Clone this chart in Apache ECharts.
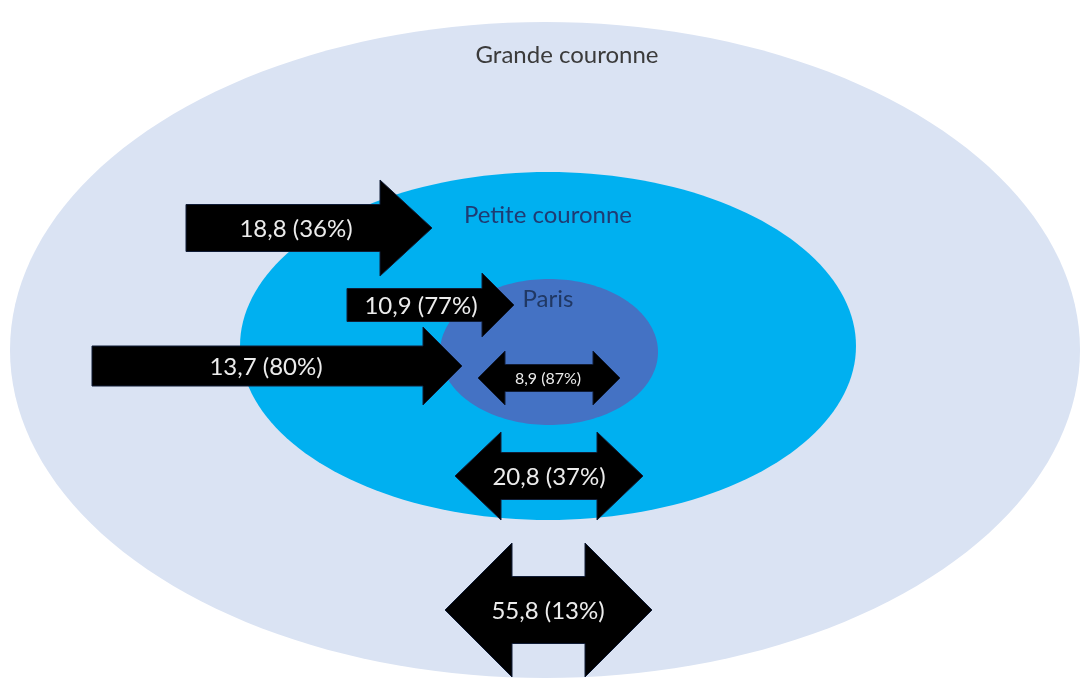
<!DOCTYPE html>
<html>
<head>
<meta charset="UTF-8">
<title>Flux Paris / Petite couronne / Grande couronne</title>
<script src="https://cdn.jsdelivr.net/npm/echarts@6/dist/echarts.min.js"></script>
<style>
  html, body { margin: 0; padding: 0; background: #fff; }
  #main { width: 1080px; height: 679px; }
</style>
</head>
<body>
<div id="main"></div>
<script>
// zones (outer to inner)
var zoneNames = ['Grande couronne', 'Petite couronne', 'Paris'];
// flows: value (in units as in source) and share in %
var flowValues = [18.8, 10.9, 13.7, 8.9, 20.8, 55.8];
var flowShares = [36, 77, 80, 87, 37, 13];
var flowKinds = ['in', 'in', 'in', 'both', 'both', 'both'];

// layout in axis units (x: 0..1080, y: 0..679 top-down)
var zoneGeom = [
  // cx, cy, rx, ry, labelX, labelY
  [545, 350, 535, 328, 567, 55],
  [548, 346, 308, 174, 548, 215],
  [549, 352, 109, 73, 548, 299]
];
var zoneFill = ['#dae3f3', '#00b0f0', '#4472c4'];
var zoneText = ['#3b3b3b', '#1f3b73', '#203864'];

var flowGeom = [
  // x0, x1, cy, bodyHalf, headHalf, headLen, labelX, fontSize
  [186, 432, 228, 23.5, 48, 52, 296, 24],
  [347, 514, 305, 16.5, 32, 32, 421, 24],
  [92, 462, 366, 20, 39, 39, 266, 24],
  [478, 620, 378, 13.5, 27, 27, 548, 16],
  [455, 643, 476, 23.5, 44, 46, 549, 24],
  [445, 652, 610, 33.5, 67, 67, 548, 24]
];

function fmt(v, p) {
  return v.toFixed(1).replace('.', ',') + ' (' + p + '%)';
}

var zoneData = zoneNames.map(function (n, i) { return [i, n]; });
var flowData = flowValues.map(function (v, i) { return [i, v, flowShares[i]]; });

var font = 'Lato, "Open Sans", sans-serif';

var chart = echarts.init(document.getElementById('main'));
chart.setOption({
  animation: false,
  grid: { left: 0, right: 0, top: 0, bottom: 0 },
  xAxis: { type: 'value', min: 0, max: 1080, show: false },
  yAxis: { type: 'value', min: 0, max: 679, inverse: true, show: false },
  series: [
    {
      type: 'custom',
      name: 'zones',
      data: zoneData,
      clip: true,
      renderItem: function (params, api) {
        var i = api.value(0);
        var g = zoneGeom[i];
        var pts = [];
        for (var k = 0; k < 180; k++) {
          var a = k / 180 * Math.PI * 2;
          pts.push(api.coord([g[0] + g[2] * Math.cos(a), g[1] + g[3] * Math.sin(a)]));
        }
        var lp = api.coord([g[4], g[5]]);
        return {
          type: 'group',
          children: [
            { type: 'polygon', shape: { points: pts }, style: { fill: zoneFill[i] } },
            {
              type: 'text', x: lp[0], y: lp[1], z2: 5,
              style: {
                text: zoneNames[i], fill: zoneText[i], font: '24px ' + font,
                align: 'center', verticalAlign: 'middle'
              }
            }
          ]
        };
      }
    },
    {
      type: 'custom',
      name: 'flux',
      data: flowData,
      clip: true,
      z: 3,
      renderItem: function (params, api) {
        var i = api.value(0);
        var g = flowGeom[i];
        var x0 = g[0], x1 = g[1], cy = g[2], b = g[3], h = g[4], hl = g[5];
        var raw;
        if (flowKinds[i] === 'in') {
          raw = [[x0, cy - b], [x1 - hl, cy - b], [x1 - hl, cy - h], [x1, cy],
                 [x1 - hl, cy + h], [x1 - hl, cy + b], [x0, cy + b]];
        } else {
          raw = [[x0, cy], [x0 + hl, cy - h], [x0 + hl, cy - b], [x1 - hl, cy - b],
                 [x1 - hl, cy - h], [x1, cy], [x1 - hl, cy + h], [x1 - hl, cy + b],
                 [x0 + hl, cy + b], [x0 + hl, cy + h]];
        }
        var pts = raw.map(function (p) { return api.coord(p); });
        var lp = api.coord([g[6], cy]);
        return {
          type: 'group',
          children: [
            {
              type: 'polygon', shape: { points: pts },
              style: { fill: '#000', stroke: '#101c36', lineWidth: 1 }
            },
            {
              type: 'text', x: lp[0], y: lp[1] + 1, z2: 5,
              style: {
                text: fmt(api.value(1), api.value(2)), fill: '#ececec',
                font: g[7] + 'px ' + font, align: 'center', verticalAlign: 'middle'
              }
            }
          ]
        };
      }
    }
  ]
});
</script>
</body>
</html>
